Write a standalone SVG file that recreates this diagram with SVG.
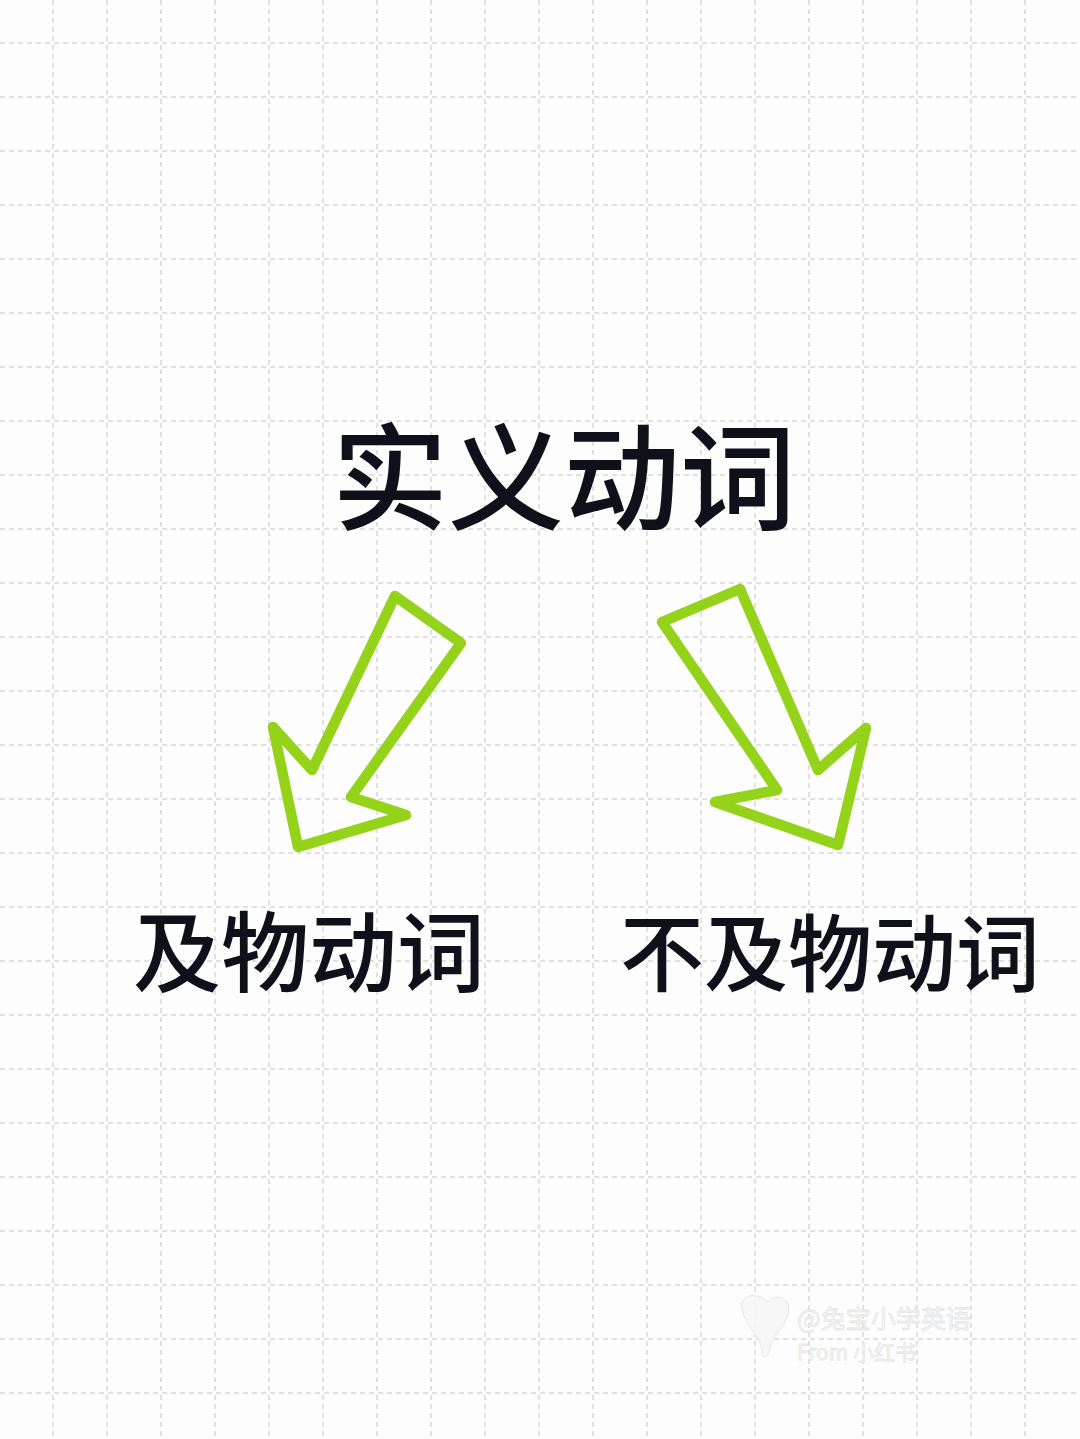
<svg xmlns="http://www.w3.org/2000/svg" width="1080" height="1439" viewBox="0 0 1080 1439">
  <defs>
    <style>
      .grid line { stroke: #d8d8d8; stroke-width: 1.5; stroke-dasharray: 5 4; }
      .label { font-family: "Noto Sans CJK SC", "Noto Sans", sans-serif; fill: #10101a; font-weight: 500; }
      .arrow { fill: none; stroke: #95d31a; stroke-width: 10.5; stroke-linejoin: round; stroke-linecap: round; }
      .wm { font-family: "Noto Sans CJK SC", "Noto Sans", sans-serif; fill: #f7f7f7; stroke: #e4e4e4; stroke-width: 0.8; }
    </style>
  </defs>
  <rect x="0" y="0" width="1080" height="1439" fill="#fdfdfd"/>
  <g class="grid" id="grid">
    <line x1="53" y1="0" x2="53" y2="1439"/>
    <line x1="107" y1="0" x2="107" y2="1439"/>
    <line x1="161" y1="0" x2="161" y2="1439"/>
    <line x1="215" y1="0" x2="215" y2="1439"/>
    <line x1="269" y1="0" x2="269" y2="1439"/>
    <line x1="323" y1="0" x2="323" y2="1439"/>
    <line x1="377" y1="0" x2="377" y2="1439"/>
    <line x1="431" y1="0" x2="431" y2="1439"/>
    <line x1="485" y1="0" x2="485" y2="1439"/>
    <line x1="539" y1="0" x2="539" y2="1439"/>
    <line x1="593" y1="0" x2="593" y2="1439"/>
    <line x1="647" y1="0" x2="647" y2="1439"/>
    <line x1="701" y1="0" x2="701" y2="1439"/>
    <line x1="755" y1="0" x2="755" y2="1439"/>
    <line x1="809" y1="0" x2="809" y2="1439"/>
    <line x1="863" y1="0" x2="863" y2="1439"/>
    <line x1="917" y1="0" x2="917" y2="1439"/>
    <line x1="971" y1="0" x2="971" y2="1439"/>
    <line x1="1025" y1="0" x2="1025" y2="1439"/>
    <line x1="0" y1="43" x2="1080" y2="43"/>
    <line x1="0" y1="97" x2="1080" y2="97"/>
    <line x1="0" y1="151" x2="1080" y2="151"/>
    <line x1="0" y1="205" x2="1080" y2="205"/>
    <line x1="0" y1="259" x2="1080" y2="259"/>
    <line x1="0" y1="313" x2="1080" y2="313"/>
    <line x1="0" y1="367" x2="1080" y2="367"/>
    <line x1="0" y1="421" x2="1080" y2="421"/>
    <line x1="0" y1="475" x2="1080" y2="475"/>
    <line x1="0" y1="529" x2="1080" y2="529"/>
    <line x1="0" y1="583" x2="1080" y2="583"/>
    <line x1="0" y1="637" x2="1080" y2="637"/>
    <line x1="0" y1="691" x2="1080" y2="691"/>
    <line x1="0" y1="745" x2="1080" y2="745"/>
    <line x1="0" y1="799" x2="1080" y2="799"/>
    <line x1="0" y1="853" x2="1080" y2="853"/>
    <line x1="0" y1="907" x2="1080" y2="907"/>
    <line x1="0" y1="961" x2="1080" y2="961"/>
    <line x1="0" y1="1015" x2="1080" y2="1015"/>
    <line x1="0" y1="1069" x2="1080" y2="1069"/>
    <line x1="0" y1="1123" x2="1080" y2="1123"/>
    <line x1="0" y1="1177" x2="1080" y2="1177"/>
    <line x1="0" y1="1231" x2="1080" y2="1231"/>
    <line x1="0" y1="1285" x2="1080" y2="1285"/>
    <line x1="0" y1="1339" x2="1080" y2="1339"/>
    <line x1="0" y1="1393" x2="1080" y2="1393"/>
  </g>
  <g id="node-root">
    <text class="label" x="332" y="521" font-size="116">实义动词</text>
  </g>
  <g id="node-transitive">
    <text class="label" x="133" y="985" font-size="88">及物动词</text>
  </g>
  <g id="node-intransitive">
    <text class="label" x="620" y="985" font-size="84">不及物动词</text>
  </g>
  <g id="connectors">
    <polygon class="arrow" points="395,596 461,643 351,797 406,815 298,847 273,727 312,770"/>
    <polygon class="arrow" points="662,622 740,589 818,770 866,728 838,845 715,802 777,790"/>
  </g>
  <g id="watermark" opacity="0.9">
    <path d="M742,1310 C738,1296 756,1290 768,1302 C776,1292 792,1298 788,1314 C784,1328 772,1336 770,1348 C768,1360 762,1360 762,1350 C762,1340 746,1326 742,1310 Z" fill="#f7f7f7" stroke="#e4e4e4" stroke-width="1"/>
    <text class="wm" x="797" y="1328" font-size="25">@兔宝小学英语</text>
    <text class="wm" x="797" y="1360" font-size="21">From 小红书</text>
  </g>
</svg>
